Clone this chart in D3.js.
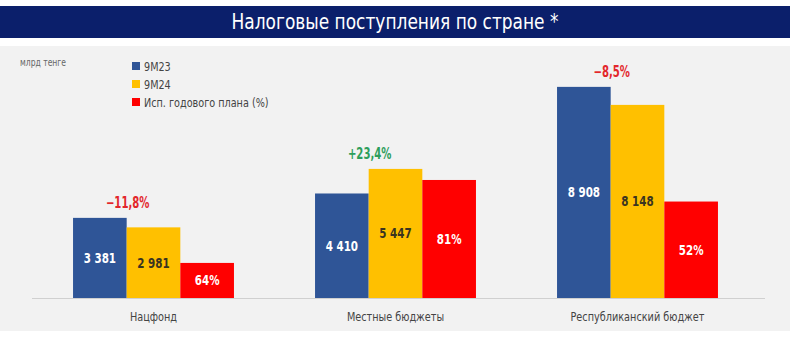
<!DOCTYPE html>
<html><head><meta charset="utf-8">
<script src="https://cdn.jsdelivr.net/npm/d3@7/dist/d3.min.js"></script>
<style>
body{margin:0;background:#fff;}
text{font-family:"Liberation Sans Narrow","DejaVu Sans Condensed","Roboto",sans-serif;}
</style></head>
<body><svg id="c" width="800" height="340"></svg>
<script>
const title = "Налоговые поступления по стране *";
const unitLabel = "млрд тенге";
const categories = ["Нацфонд", "Местные бюджеты", "Республиканский бюджет"];
const seriesNames = ["9M23", "9M24", "Исп. годового плана (%)"];
const values9M23 = [3381, 4410, 8908];
const values9M24 = [2981, 5447, 8148];
const planPct = [64, 81, 52];
// red bar heights as drawn in the picture (read on the tenge scale)
const planBarValues = [1480, 4980, 4070];
const changeLabels = ["−11,8%", "+23,4%", "−8,5%"];
const changeSign = [-1, 1, -1];
const colors = ["#2F5597", "#FFC000", "#FF0000"];

const fmt = v => d3.format(",")(v).replace(/,/g, "\u00a0");
const svg = d3.select("#c");

// narrow text helper: horizontally compress text around its anchor x
function narrow(sel, k){
  sel.each(function(){
    const t = d3.select(this);
    const x = +t.attr("x") || 0;
    t.attr("transform", "translate("+x+",0) scale("+k+",1) translate("+(-x)+",0)");
  });
}

// title bar + panel
svg.append("rect").attr("x",0).attr("y",6).attr("width",790).attr("height",32).attr("fill","#0B1F6B");
svg.append("text").attr("x",395).attr("y",29).attr("text-anchor","middle")
  .attr("fill","#fff").attr("font-size",21).text(title).call(narrow,0.9);
svg.append("rect").attr("x",0).attr("y",46).attr("width",790).attr("height",285).attr("fill","#F2F2F2");

const x0 = d3.scaleBand().domain(categories).range([32.5, 758.5]).paddingInner(0.335).paddingOuter(0.1675);
const x1 = d3.scaleBand().domain(d3.range(3)).range([0, x0.bandwidth()]);
const y = d3.scaleLinear().domain([0, 10000]).range([298, 61]);

// baseline axis
const axis = svg.append("g").attr("transform","translate(0,"+y(0)+")")
  .call(d3.axisBottom(x0).tickSize(0).tickPadding(14));
axis.select(".domain").attr("stroke","#D0D0D0").attr("d","M32,0.5H765");
axis.selectAll("text").attr("font-size",13).attr("fill","#444")
  .style("font-family",'"Liberation Sans Narrow","DejaVu Sans Condensed",sans-serif')
  .call(narrow,0.83);

const rows = categories.map((c,i)=>({c,i,bars:[
  {s:0, v:values9M23[i], lab:fmt(values9M23[i]), lc:"#fff"},
  {s:1, v:values9M24[i], lab:fmt(values9M24[i]), lc:"#3A3420"},
  {s:2, v:planBarValues[i], lab:planPct[i]+"%", lc:"#fff"}
]}));

const g = svg.selectAll("g.grp").data(rows).join("g").attr("class","grp")
  .attr("transform", d=>"translate("+x0(d.c)+",0)");
g.selectAll("rect").data(d=>d.bars).join("rect")
  .attr("x", d=>x1(d.s)).attr("width", x1.bandwidth())
  .attr("y", d=>y(d.v)).attr("height", d=>y(0)-y(d.v)).attr("fill", d=>colors[d.s]);
g.selectAll("text.val").data(d=>d.bars).join("text").attr("class","val")
  .attr("x", d=>x1(d.s)+x1.bandwidth()/2).attr("y", d=>(y(d.v)+y(0))/2+5)
  .attr("text-anchor","middle").attr("font-size",14).attr("font-weight","bold")
  .attr("fill", d=>d.lc).text(d=>d.lab).call(narrow,0.82);
g.append("text").attr("x", x1(1)+1).attr("y", d=>y(Math.max(values9M23[d.i], values9M24[d.i]))-10)
  .attr("text-anchor","middle").attr("font-size",15).attr("font-weight","bold")
  .attr("fill", d=>changeSign[d.i]>0 ? "#2E9E5B" : "#E3262B").text(d=>changeLabels[d.i])
  .call(narrow,0.75);

// unit label
svg.append("text").attr("x",20).attr("y",66).attr("font-size",10).attr("fill","#666")
  .text(unitLabel).call(narrow,0.85);

// legend
const lg = svg.selectAll("g.lg").data(seriesNames).join("g").attr("class","lg")
  .attr("transform",(d,i)=>"translate(132,"+(62+i*18)+")");
lg.append("rect").attr("width",8).attr("height",8).attr("fill",(d,i)=>colors[i]);
lg.append("text").attr("x",12).attr("y",8.5).attr("font-size",12.5).attr("fill","#444")
  .text(d=>d).call(narrow,0.86);
</script></body></html>
